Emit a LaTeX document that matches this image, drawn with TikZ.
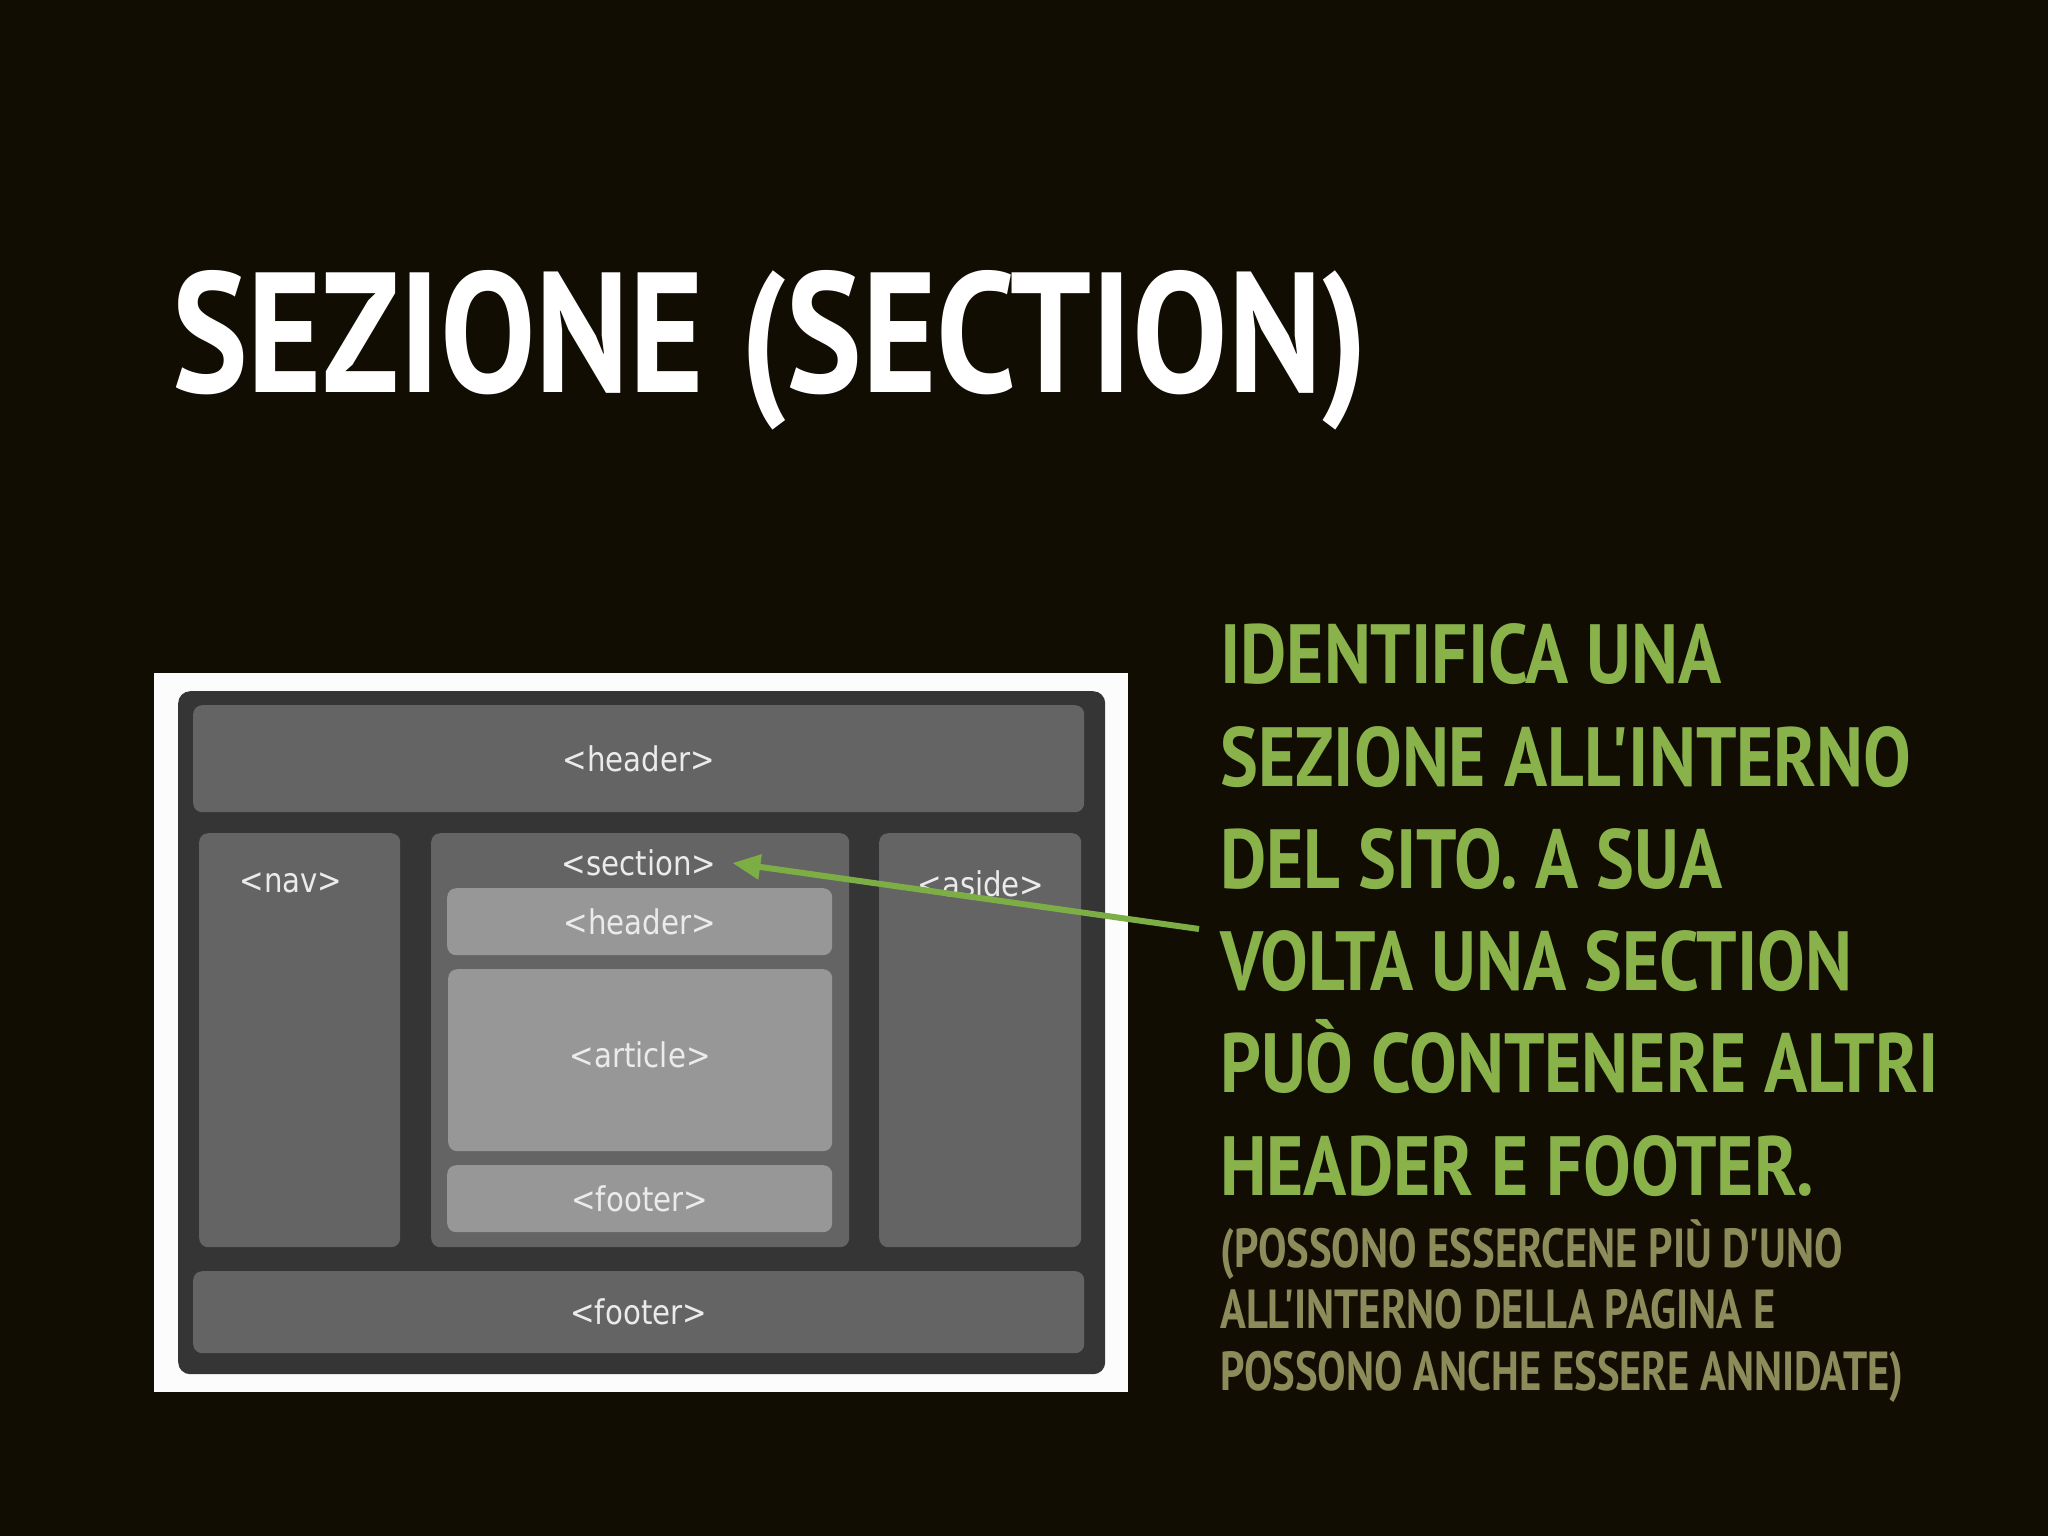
\documentclass[tikz,border=0pt]{standalone}
\usepackage{fontspec}
\usetikzlibrary{arrows.meta}
\newfontfamily\titlefont{PT Sans}[FakeStretch=0.835]
\newfontfamily\bodyfont{PT Sans}[FakeStretch=0.85]
\newfontfamily\smallfont{PT Sans}[FakeStretch=0.775]
\newfontfamily\labelfont{DejaVu Sans}[FakeStretch=0.86]
\definecolor{bg}{HTML}{110D03}
\definecolor{grn}{HTML}{8AB24A}
\definecolor{olv}{HTML}{8C8B5A}
\definecolor{frame}{HTML}{FCFCFC}
\definecolor{dk}{HTML}{353535}
\definecolor{mid}{HTML}{646464}
\definecolor{lt}{HTML}{979797}
\definecolor{lbl}{HTML}{EBEBEB}
\definecolor{arr}{HTML}{7DAE45}
\tikzset{
  box/.style={rectangle, anchor=north west, inner sep=0pt, rounded corners=9pt},
  lab/.style={text=lbl, font=\labelfont\fontsize{34}{38}\selectfont},
  bigline/.style={anchor=base west, inner sep=0pt, text=grn, font=\bodyfont\bfseries\fontsize{84}{100}\selectfont},
  smallline/.style={anchor=base west, inner sep=0pt, text=olv, font=\smallfont\bfseries\fontsize{55}{60}\selectfont},
}
\begin{document}
\begin{tikzpicture}[x=1pt,y=-1pt]
\fill[bg] (0,0) rectangle (2048,1536);
\useasboundingbox (0,0) rectangle (2048,1536);

% title
\node[anchor=base west, inner sep=0pt, text=white, font=\titlefont\bfseries\fontsize{171}{180}\selectfont] (title) at (172,392) {SEZIONE (SECTION)};

% diagram
\node[box, fill=frame, rounded corners=0pt, minimum width=974pt, minimum height=719pt] (frame) at (154,673) {};
\node[box, fill=dk, rounded corners=12pt, minimum width=927pt, minimum height=683pt] (outer) at (178,691) {};
\node[box, fill=mid, minimum width=891pt, minimum height=107pt, lab] (header) at (193,705) {<header>};
\node[box, fill=mid, minimum width=201pt, minimum height=414pt] (nav) at (199,833) {};
\node[box, fill=mid, minimum width=418pt, minimum height=414pt] (section) at (431,833) {};
\node[box, fill=mid, minimum width=202pt, minimum height=414pt] (aside) at (879,833) {};
\node[box, fill=lt, minimum width=385pt, minimum height=67pt, lab] (iheader) at (447,888) {<header>};
\node[box, fill=lt, minimum width=384pt, minimum height=182pt, lab] (article) at (448,969) {\raisebox{12pt}{<article>}};
\node[box, fill=lt, minimum width=385pt, minimum height=67pt, lab] (ifooter) at (447,1165) {<footer>};
\node[box, fill=mid, minimum width=891pt, minimum height=82pt, lab] (footer) at (193,1271) {<footer>};
\node[lab, inner sep=10pt] (navlbl) at (291,883) {<nav>};
\node[lab, inner sep=10pt, inner xsep=16pt] (seclbl) at (639,863) {<section>};
\node[lab, inner sep=10pt] (asidelbl) at (981,884) {<aside>};

% arrow
\coordinate (src) at (1199,929);
\draw[arr, line width=6pt, -{Triangle[length=28pt, width=24pt]}] (src) -- (seclbl.east);

% right text
\node[bigline] (t1) at (1220,683) {IDENTIFICA UNA};
\node[bigline] (t2) at (1220,786) {SEZIONE ALL'INTERNO};
\node[bigline] (t3) at (1220,888) {DEL SITO. A SUA};
\node[bigline] (t4) at (1220,990) {VOLTA UNA SECTION};
\node[bigline] (t5) at (1220,1092) {PUÒ CONTENERE ALTRI};
\node[bigline] (t6) at (1220,1195) {HEADER E FOOTER.};
\node[smallline] (s1) at (1220,1267) {(POSSONO ESSERCENE PIÙ D'UNO};
\node[smallline] (s2) at (1220,1328) {ALL'INTERNO DELLA PAGINA E};
\node[smallline] (s3) at (1220,1390) {POSSONO ANCHE ESSERE ANNIDATE)};
\end{tikzpicture}
\end{document}
